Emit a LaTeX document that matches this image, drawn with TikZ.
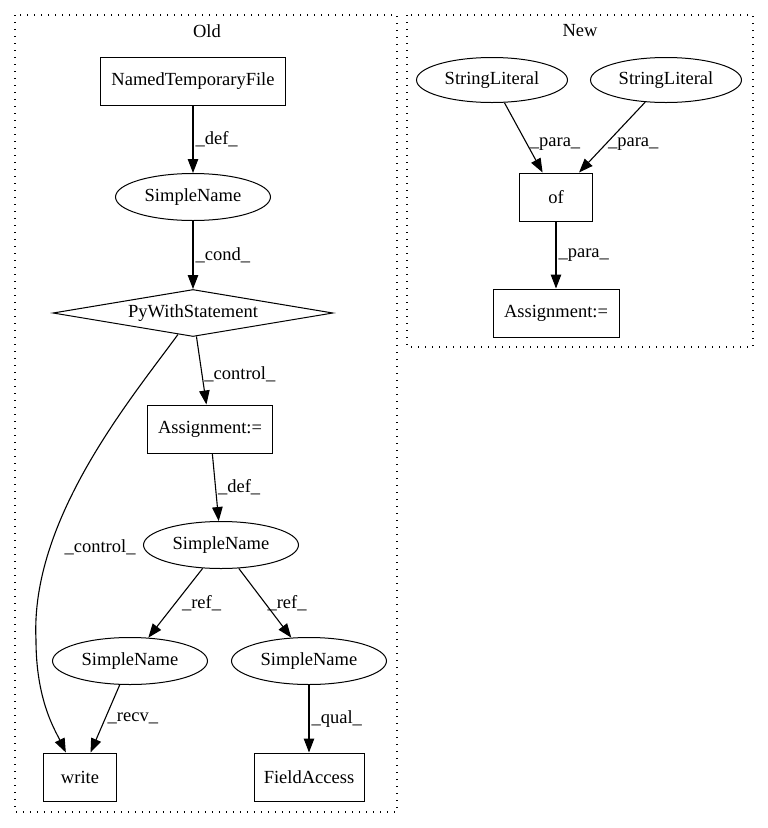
\documentclass[tikz,border=0pt]{standalone}
\usepackage{fontspec}
\setmainfont{Liberation Serif}
\usetikzlibrary{shapes.geometric,arrows.meta}

\begin{document}
\begin{tikzpicture}[x=1pt,y=-1pt,
  gfont/.style={font=\fontsize{18.5}{22}\selectfont},
  boxnode/.style={draw, rectangle, line width=1pt, minimum height=48, inner sep=0, gfont},
  ellnode/.style={draw, ellipse, line width=1pt, minimum width=155, minimum height=47, inner sep=0, gfont},
  edge/.style={line width=1.1pt, -{Triangle[length=14pt,width=10.5pt]}},
  elabel/.style={gfont, inner sep=0, right=2pt},
  cluster/.style={line width=1.2pt, dash pattern=on 1.3pt off 5.7pt}]

\useasboundingbox (0,0) rectangle (768,828);

%clusters
\draw[cluster] (15,15) rectangle (397,812);
\draw[cluster] (407,15) rectangle (753,347);
\node[gfont] (old) at (207,31) {Old};
\node[gfont] (new) at (580,31) {New};

%old
\node[boxnode, minimum width=185] (ntf) at (193,81) {NamedTemporaryFile};
\node[ellnode] (sn1) at (193,197) {SimpleName};
\node[draw, diamond, aspect=6, line width=1pt, minimum width=280, minimum height=47, inner sep=0, gfont] (pws) at (193,313) {PyWithStatement};
\node[boxnode, minimum width=125] (asg1) at (210,429) {Assignment:=};
\node[ellnode] (sn2) at (221,545) {SimpleName};
\node[ellnode] (sn3) at (130,661) {SimpleName};
\node[ellnode] (sn4) at (309,661) {SimpleName};
\node[boxnode, minimum width=73] (write) at (80,777) {write};
\node[boxnode, minimum width=110] (fa) at (309,777) {FieldAccess};

\draw[edge] (ntf) -- node[elabel] {\_def\_} (sn1);
\draw[edge] (sn1) -- node[elabel] {\_cond\_} (pws);
\draw[edge] (pws) -- node[elabel, pos=0.55] {\_control\_} (asg1);
\draw[edge] (pws.235) .. controls (130,400) and (30,520) .. node[elabel, pos=0.74, right=12pt] {\_control\_} (36,640)
  .. controls (36,700) and (55,730) .. (write.120);
\draw[edge] (asg1) -- node[elabel] {\_def\_} (sn2);
\draw[edge] (sn2) -- node[elabel, right=4pt] {\_ref\_} (sn3);
\draw[edge] (sn2) -- node[elabel] {\_ref\_} (sn4);
\draw[edge] (sn3) -- node[elabel] {\_recv\_} (write);
\draw[edge] (sn4) -- node[elabel] {\_qual\_} (fa);

%new
\node[ellnode, minimum width=151, minimum height=45] (sl1) at (492,80) {StringLiteral};
\node[ellnode, minimum width=151, minimum height=45] (sl2) at (666,80) {StringLiteral};
\node[boxnode, minimum width=73] (of) at (556,197) {of};
\node[boxnode, minimum width=126] (asg2) at (556,313) {Assignment:=};

\draw[edge] (sl1) -- node[elabel, pos=0.6] {\_para\_} (of);
\draw[edge] (sl2) -- node[elabel, pos=0.6] {\_para\_} (of);
\draw[edge] (of) -- node[elabel] {\_para\_} (asg2);
\end{tikzpicture}
\end{document}
